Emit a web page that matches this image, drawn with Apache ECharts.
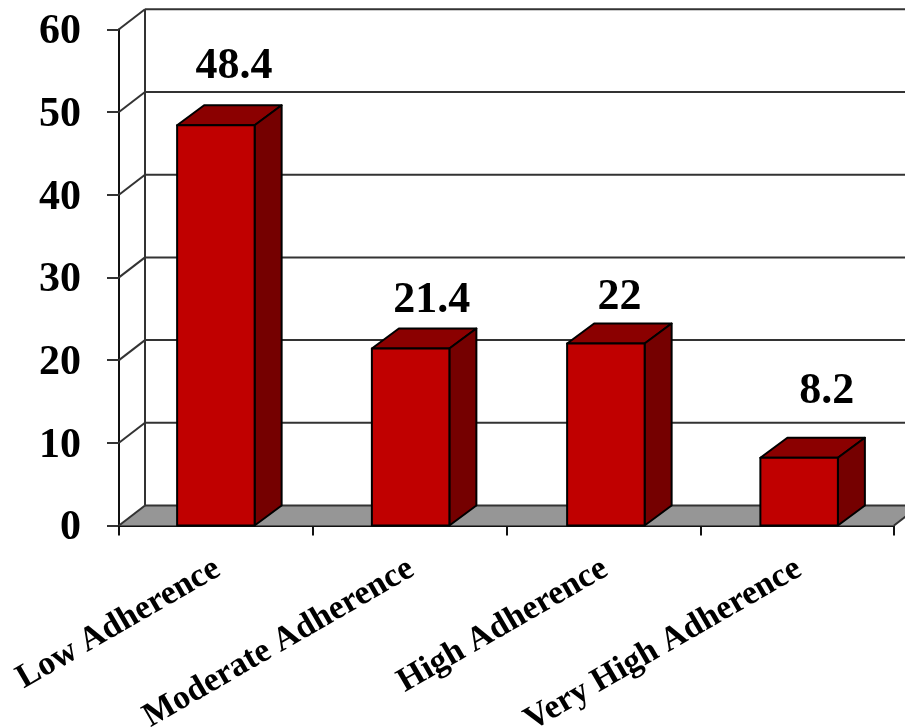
<!DOCTYPE html>
<html>
<head>
<meta charset="utf-8">
<style>html,body{margin:0;padding:0;background:#fff}#c{width:905px;height:727px}</style>
<script src="https://cdn.jsdelivr.net/npm/echarts@6/dist/echarts.min.js"></script>
</head>
<body>
<div id="c"></div>
<script>
const categories = ['Low Adherence', 'Moderate Adherence', 'High Adherence', 'Very High Adherence'];
const adherenceValues = [48.4, 21.4, 22, 8.2];
const valueLabels = ['48.4', '21.4', '22', '8.2'];
const yTicks = [0, 10, 20, 30, 40, 50, 60];

// hand-placed offsets (px)
const barShiftX = [0, 1, 2.5, 2];
const labelShiftX = [18, 21, 13.5, 27.5];
const labelShiftY = [-59, -48, -46, -66];

const FONT = '"Liberation Serif","Times New Roman",serif';
const DX = 26, DY = -20;          // wall depth
const BDX = 27, BDY = -20;        // bar depth
const BAR_W = 77.5;
const LINE = '#333333';

const chart = echarts.init(document.getElementById('c'), null, {renderer: 'canvas'});

function wallItem(params, api) {
  const v = api.value(0);
  const band = api.size([1, 0])[0];
  const c = api.coord([0, v]);
  const left = c[0] - band / 2;
  const kids = [];
  const style = {stroke: LINE, lineWidth: 2, fill: null};
  if (v === 0) {
    const right = left + band * categories.length;
    kids.push({type: 'polygon', shape: {points: [[left, c[1]], [left + DX, c[1] + DY], [right + DX, c[1] + DY], [right, c[1]]]},
      style: {fill: '#969696', stroke: null}});
    kids.push({type: 'line', shape: {x1: right, y1: c[1], x2: right + DX, y2: c[1] + DY}, style: style});
    const top = api.coord([0, yTicks[yTicks.length - 1]])[1];
    kids.push({type: 'line', shape: {x1: left + DX, y1: c[1] + DY, x2: left + DX, y2: top + DY}, style: style});
  }
  kids.push({type: 'line', shape: {x1: left, y1: c[1], x2: left + DX, y2: c[1] + DY}, style: style});
  kids.push({type: 'line', shape: {x1: left + DX, y1: c[1] + DY, x2: 905, y2: c[1] + DY}, style: style});
  return {type: 'group', children: kids};
}

function barItem(params, api) {
  const i = api.value(0);
  const top = api.coord([i, api.value(1)]);
  const base = api.coord([i, 0]);
  const cx = top[0] + barShiftX[i];
  const l = cx - BAR_W / 2, r = cx + BAR_W / 2;
  const edge = {stroke: '#000', lineWidth: 2, lineJoin: 'round'};
  return {type: 'group', children: [
    {type: 'polygon', shape: {points: [[l, top[1]], [l + BDX, top[1] + BDY], [r + BDX, top[1] + BDY], [r, top[1]]]},
      style: Object.assign({fill: '#8B0000'}, edge)},
    {type: 'polygon', shape: {points: [[r, top[1]], [r + BDX, top[1] + BDY], [r + BDX, base[1] + BDY], [r, base[1]]]},
      style: Object.assign({fill: '#750000'}, edge)},
    {type: 'rect', shape: {x: l, y: top[1], width: BAR_W, height: base[1] - top[1]},
      style: Object.assign({fill: '#C00000'}, edge)},
    {type: 'text', x: cx + labelShiftX[i], y: top[1] + labelShiftY[i],
      style: {text: valueLabels[i], fill: '#000', font: 'bold 44px ' + FONT, align: 'center', verticalAlign: 'middle'}}
  ]};
}

chart.setOption({
  animation: false,
  backgroundColor: '#fff',
  grid: {left: 119, right: 11, top: 29.3, bottom: 201.5, containLabel: false, outerBoundsMode: 'none'},
  xAxis: {
    type: 'category', data: categories,
    axisLine: {onZero: true, lineStyle: {color: '#111', width: 2}},
    axisTick: {show: true, length: 10, lineStyle: {color: '#111', width: 2}},
    axisLabel: {interval: 0, rotate: 30, margin: 42, color: '#000', hideOverlap: false,
      fontFamily: FONT, fontWeight: 'bold', fontSize: 34, padding: [0, -2, 0, 0]},
    splitLine: {show: false}
  },
  yAxis: {
    type: 'value', min: 0, max: 60, interval: 10,
    axisLine: {show: true, lineStyle: {color: '#111', width: 2}},
    axisTick: {show: true, length: 12, lineStyle: {color: '#333', width: 2}},
    axisLabel: {margin: 38, color: '#000', fontFamily: FONT, fontWeight: 'bold', fontSize: 42,
      verticalAlign: 'top', padding: [-18, 0, 0, 0]},
    splitLine: {show: false}
  },
  series: [
    {type: 'custom', z: 1, clip: false, coordinateSystem: 'cartesian2d',
      encode: {y: 0}, data: yTicks.map(v => [v]), renderItem: wallItem, silent: true},
    {type: 'custom', z: 3, clip: false, coordinateSystem: 'cartesian2d',
      encode: {x: 0, y: 1}, data: adherenceValues.map((v, i) => [i, v]), renderItem: barItem, silent: true}
  ]
});
</script>
</body>
</html>
